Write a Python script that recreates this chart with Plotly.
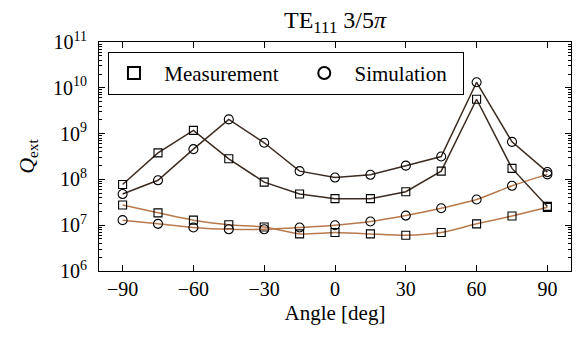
import plotly.graph_objects as go

angles = [-90, -75, -60, -45, -30, -15, 0, 15, 30, 45, 60, 75, 90]

# log10 values
meas_dark_log = [7.89, 8.58, 9.07, 8.45, 7.94, 7.68, 7.58, 7.58, 7.73, 8.18, 9.75, 8.24, 7.41]
sim_dark_log = [7.68, 7.98, 8.66, 9.31, 8.80, 8.18, 8.04, 8.10, 8.30, 8.50, 10.12, 8.82, 8.16]
meas_light_log = [7.44, 7.27, 7.11, 7.01, 6.96, 6.81, 6.84, 6.81, 6.78, 6.84, 7.03, 7.20, 7.39]
sim_light_log = [7.11, 7.03, 6.95, 6.91, 6.91, 6.95, 7.00, 7.08, 7.21, 7.37, 7.56, 7.86, 8.11]

meas_dark = [10 ** v for v in meas_dark_log]
sim_dark = [10 ** v for v in sim_dark_log]
meas_light = [10 ** v for v in meas_light_log]
sim_light = [10 ** v for v in sim_light_log]

x_ticks = [-90, -60, -30, 0, 30, 60, 90]
x_ticktext = ["\u221290", "\u221260", "\u221230", "0", "30", "60", "90"]
y_exps = [6, 7, 8, 9, 10, 11]

DARK = "#3c2b22"
LIGHT = "#b8794c"
FONT = "Liberation Serif"
NB = "\u00a0"

fig = go.Figure()

def add(y, color, symbol, shape, size):
    fig.add_trace(go.Scatter(
        x=angles, y=y, mode="lines+markers", showlegend=False,
        line=dict(color=color, width=1.5, shape=shape, smoothing=0.6),
        marker=dict(symbol=symbol, size=size, color="black",
                    line=dict(color="black", width=1.1)),
    ))

add(meas_light, LIGHT, "square-open", "spline", 8)
add(sim_light, LIGHT, "circle-open", "spline", 9)
add(meas_dark, DARK, "square-open", "linear", 8)
add(sim_dark, DARK, "circle-open", "linear", 9)

fig.add_trace(go.Scatter(x=[None], y=[None], mode="markers",
                         name=NB + "Measurement" + NB * 3,
                         marker=dict(symbol="square-open", size=8, color="black",
                                     line=dict(color="black", width=1.1))))
fig.add_trace(go.Scatter(x=[None], y=[None], mode="markers",
                         name=NB + "Simulation" + NB * 2,
                         marker=dict(symbol="circle-open", size=9, color="black",
                                     line=dict(color="black", width=1.1))))

minor_vals = [m * 10 ** e for e in range(6, 11) for m in range(2, 10)]

fig.update_layout(
    width=583, height=337,
    margin=dict(l=99, r=12, t=42, b=66),
    paper_bgcolor="white", plot_bgcolor="white",
    font=dict(family=FONT, size=20, color="black"),
    title=dict(text="TE<sub>111</sub> 3/5<i>\u03c0</i>", x=0.5 * (99 + 571) / 583,
               xanchor="center", y=0.942, yanchor="middle",
               font=dict(family=FONT, size=24, color="black")),
    showlegend=True,
    legend=dict(orientation="h", x=0.019, y=0.957, xanchor="left", yanchor="top",
                bordercolor="black", borderwidth=1, bgcolor="white",
                font=dict(family=FONT, size=21, color="black"),
                itemsizing="constant", itemwidth=40),
    xaxis=dict(range=[-100, 100], tickvals=x_ticks, ticktext=x_ticktext,
               ticks="inside", ticklen=6, tickwidth=1, tickcolor="black",
               showline=True, linecolor="black", linewidth=1.2, mirror="ticks",
               showgrid=False, zeroline=False,
               tickfont=dict(family=FONT, size=20),
               title=dict(text="Angle [deg]", font=dict(family=FONT, size=21), standoff=6)),
    yaxis=dict(type="log", range=[6, 11],
               tickvals=[10 ** e for e in y_exps],
               ticktext=["10<sup>%d</sup>" % e for e in y_exps],
               ticks="inside", ticklen=6, tickwidth=1, tickcolor="black",
               ticklabelstandoff=7,
               minor=dict(tickvals=minor_vals, ticks="inside", ticklen=3, tickcolor="black"),
               showline=True, linecolor="black", linewidth=1.2, mirror="ticks",
               showgrid=False, zeroline=False,
               tickfont=dict(family=FONT, size=20),
               title=dict(text="<i>Q</i><sub>ext</sub>", font=dict(family=FONT, size=22), standoff=12)),
)

fig.write_html("out.html")
